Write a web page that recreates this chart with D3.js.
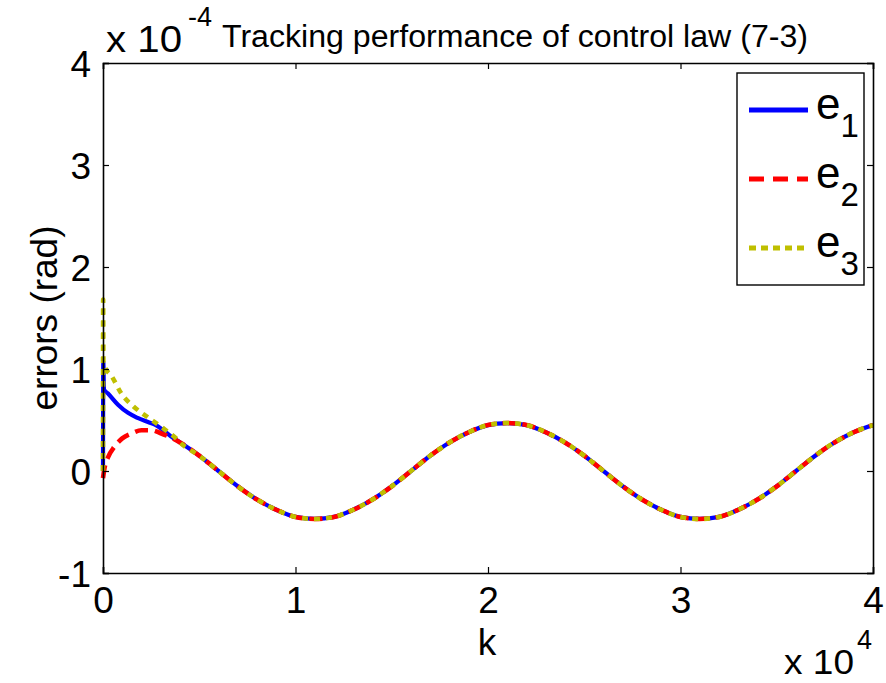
<!DOCTYPE html>
<html>
<head>
<meta charset="utf-8">
<script src="https://cdn.jsdelivr.net/npm/d3@7"></script>
<style>
  html, body { margin: 0; padding: 0; background: #fff; }
  svg { display: block; font-family: "Liberation Sans", Arial, sans-serif; }
</style>
</head>
<body>
<svg id="chart" width="886" height="683"></svg>
<script>
// ---- data (values in units of 1e-4 rad) ----
const seriesNames = ["e1", "e2", "e3"];
const xTicks = [0, 10000, 20000, 30000, 40000];
const xTickLabels = ["0", "1", "2", "3", "4"];
const yTicks = [-1, 0, 1, 2, 3, 4];
const yTickLabels = ["-1", "0", "1", "2", "3", "4"];

// shared steady-state part
const steadyK = [4000, 5000, 6000, 7000, 8000, 9000, 10000, 11000, 12000, 13000, 14000,
  15000, 16000, 17000, 18000, 19000, 20000, 21000, 22000, 23000, 24000, 25000, 26000,
  27000, 28000, 29000, 30000, 31000, 32000, 33000, 34000, 35000, 36000, 37000, 38000,
  39000, 40000];
const steadyV = [0.28, 0.15, 0.0, -0.15, -0.28, -0.38, -0.45, -0.47, -0.45, -0.38, -0.28,
  -0.15, 0.0, 0.15, 0.28, 0.38, 0.45, 0.47, 0.45, 0.38, 0.28, 0.15, 0.0,
  -0.15, -0.28, -0.38, -0.45, -0.47, -0.45, -0.38, -0.28, -0.15, 0.0, 0.15, 0.28,
  0.38, 0.45];

// transients
const e1K = [0, 15, 50, 260, 780, 1300, 1800, 2340, 2750, 3200, 3600];
const e1V = [0, 1.07, 0.80, 0.76, 0.65, 0.57, 0.52, 0.48, 0.45, 0.39, 0.33];
const e2K = [0, 80, 250, 600, 1000, 1500, 2000, 2500, 3000, 3500];
const e2V = [-0.07, 0.03, 0.13, 0.24, 0.32, 0.37, 0.40, 0.40, 0.37, 0.33];
const e3K = [0, 8, 20, 100, 450, 950, 1600, 2300, 2900, 3400, 3800];
const e3V = [0, 1.68, 1.07, 1.02, 0.93, 0.76, 0.63, 0.53, 0.45, 0.38, 0.32];

const colors = { e1: "#0000ff", e2: "#ff0000", e3: "#bfbf00" };
const dashes = { e1: null, e2: "13,7", e3: "6,6" };
const widths = { e1: 4.2, e2: 4.6, e3: 4.6 };

function build(k, v) {
  const pts = k.map((kk, i) => ({ k: kk, v: v[i] }));
  return pts.concat(steadyK.map((kk, i) => ({ k: kk, v: steadyV[i] })));
}
const data = {
  e1: build(e1K, e1V),
  e2: build(e2K, e2V),
  e3: build(e3K, e3V)
};

// ---- layout ----
const svg = d3.select("#chart");
const L = 103, R = 873, T = 63, B = 573;
const x = d3.scaleLinear().domain([0, 40000]).range([L, R]);
const y = d3.scaleLinear().domain([-1, 4]).range([B, T]);

const line = d3.line().x(d => x(d.k)).y(d => y(d.v)).curve(d3.curveMonotoneX);

svg.append("clipPath").attr("id", "clip")
  .append("rect").attr("x", L - 3).attr("y", T).attr("width", R - L + 3).attr("height", B - T);

// data lines
const g = svg.append("g").attr("clip-path", "url(#clip)");
seriesNames.forEach(n => {
  g.append("path")
    .datum(data[n])
    .attr("fill", "none")
    .attr("stroke", colors[n])
    .attr("stroke-width", widths[n])
    .attr("stroke-dasharray", dashes[n])
    .attr("d", line);
});

// axes (MATLAB box style, inward ticks)
const tickLen = 6;
const fontTick = 37;
const axB = svg.append("g").attr("transform", `translate(0,${B})`)
  .call(d3.axisBottom(x).tickValues(xTicks).tickSize(-tickLen).tickFormat((d, i) => xTickLabels[i]).tickPadding(14));
const axT = svg.append("g").attr("transform", `translate(0,${T})`)
  .call(d3.axisTop(x).tickValues(xTicks).tickSize(-tickLen).tickFormat(""));
const axL = svg.append("g").attr("transform", `translate(${L},0)`)
  .call(d3.axisLeft(y).tickValues(yTicks).tickSize(-tickLen).tickFormat((d, i) => yTickLabels[i]).tickPadding(12));
const axR = svg.append("g").attr("transform", `translate(${R},0)`)
  .call(d3.axisRight(y).tickValues(yTicks).tickSize(-tickLen).tickFormat(""));
[axB, axT, axL, axR].forEach(a => {
  a.select(".domain").attr("stroke", "#000").attr("stroke-width", 1.6);
  a.selectAll(".tick line").attr("stroke", "#000").attr("stroke-width", 1.2);
  a.selectAll("text").attr("font-size", fontTick).attr("fill", "#000")
    .attr("font-family", '"Liberation Sans", Arial, sans-serif');
});
axB.selectAll("text").attr("dy", "0.71em");
axL.selectAll("text").attr("dy", "0.36em");

// y exponent + title
svg.append("text").attr("x", 106).attr("y", 52).attr("font-size", 36)
  .attr("textLength", 76).attr("lengthAdjust", "spacingAndGlyphs").text("x 10");
svg.append("text").attr("x", 188).attr("y", 26).attr("font-size", 27).text("-4");
svg.append("text").attr("x", 222).attr("y", 47).attr("font-size", 31)
  .attr("textLength", 586).attr("lengthAdjust", "spacingAndGlyphs")
  .text("Tracking performance of control law (7-3)");

// x label + exponent
svg.append("text").attr("x", x(20000) - 1).attr("y", 655).attr("font-size", 37)
  .attr("text-anchor", "middle").text("k");
svg.append("text").attr("x", 784).attr("y", 674).attr("font-size", 35)
  .attr("textLength", 70).attr("lengthAdjust", "spacingAndGlyphs").text("x 10");
svg.append("text").attr("x", 857).attr("y", 649).attr("font-size", 27).text("4");

// y label
svg.append("text")
  .attr("transform", `translate(57,${(T + B) / 2}) rotate(-90)`)
  .attr("text-anchor", "middle").attr("font-size", 37).text("errors (rad)");

// legend
const lg = svg.append("g");
lg.append("rect").attr("x", 737).attr("y", 73).attr("width", 127).attr("height", 212)
  .attr("fill", "#fff").attr("stroke", "#000").attr("stroke-width", 1.4);
const legY = [110, 179, 248];
seriesNames.forEach((n, i) => {
  lg.append("line").attr("x1", 749).attr("x2", 808).attr("y1", legY[i]).attr("y2", legY[i])
    .attr("stroke", colors[n]).attr("stroke-width", widths[n] + 0.6)
    .attr("stroke-dasharray", dashes[n] ? (n === "e2" ? "15,9" : "7,5") : null);
  const t = lg.append("text").attr("x", 816).attr("y", legY[i] + 9).attr("font-size", 44);
  t.append("tspan").text("e");
  t.append("tspan").attr("font-size", 33).attr("dy", 18).text(String(i + 1));
});
</script>
</body>
</html>
